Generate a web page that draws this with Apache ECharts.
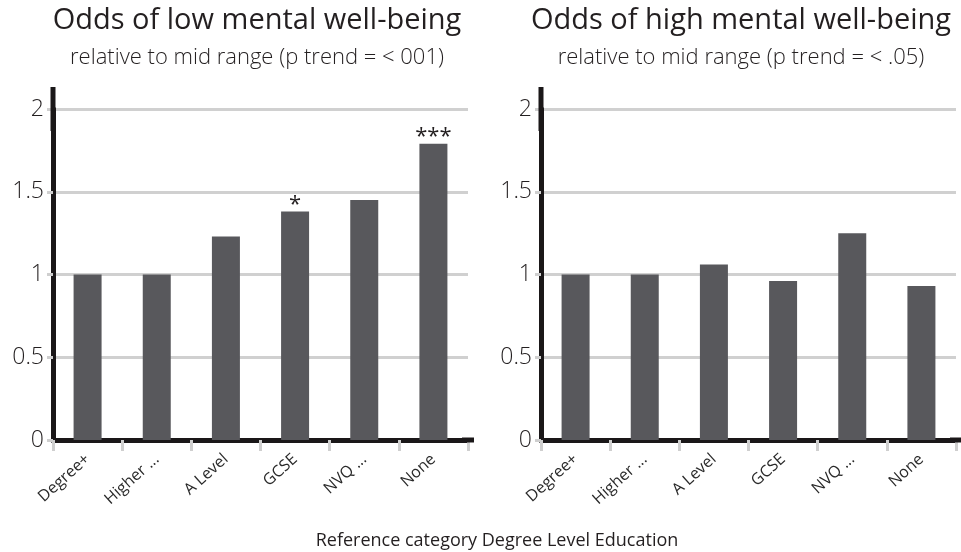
<!DOCTYPE html>
<html>
<head>
<meta charset="utf-8">
<script src="https://cdn.jsdelivr.net/npm/echarts@6/dist/echarts.min.js"></script>
<style>
  html, body { margin: 0; padding: 0; background: #fff; }
  #chart { width: 961px; height: 552px; }
</style>
</head>
<body>
<div id="chart"></div>
<script>
// Education levels shown on both panels
const categories = ['Degree+', 'Higher ...', 'A Level', 'GCSE', 'NVQ ...', 'None'];

// Odds ratios relative to the mid range of mental well-being
const lowWellbeingOdds = [1.0, 1.0, 1.23, 1.38, 1.45, 1.79];
const highWellbeingOdds = [1.0, 1.0, 1.06, 0.96, 1.25, 0.93];

// Significance markers printed above the bars
const lowSignificance = ['', '', '', '*', '', '***'];
const highSignificance = ['', '', '', '', '', ''];

// Value axis ticks
const yTicks = [0, 0.5, 1, 1.5, 2];

const FONT = '"Open Sans", Lato, sans-serif';
const TEXT = '#231f20';
const BAR = '#58585c';

function xAxisFor(gridIndex) {
  return {
    type: 'category',
    gridIndex,
    data: categories,
    boundaryGap: true,
    axisLine: {
      show: true,
      lineStyle: { color: '#1a1718', width: 5 },
      symbol: ['none', 'rect'],
      symbolSize: [5, 12]
    },
    axisTick: {
      show: true,
      alignWithLabel: false,
      length: 11,
      lineStyle: { color: '#cfcfcf', width: 3 }
    },
    axisLabel: {
      rotate: 42,
      margin: 17,
      interval: 0,
      fontFamily: FONT,
      fontWeight: 400,
      fontSize: 16,
      color: '#2a2a2a'
    },
    splitLine: { show: false }
  };
}

function yAxisFor(gridIndex) {
  return {
    type: 'value',
    gridIndex,
    min: yTicks[0],
    max: yTicks[yTicks.length - 1],
    interval: yTicks[1] - yTicks[0],
    axisLine: {
      show: true,
      lineStyle: { color: '#1a1718', width: 5 },
      symbol: ['none', 'rect'],
      symbolSize: [5, 44]
    },
    axisTick: {
      show: true,
      length: 6,
      lineStyle: { color: '#cfcfcf', width: 3 }
    },
    axisLabel: {
      margin: 9,
      fontFamily: FONT,
      fontWeight: 300,
      fontSize: 23,
      color: TEXT,
      formatter: v => String(v)
    },
    splitLine: {
      show: true,
      lineStyle: { color: '#d0d0d0', width: 3 }
    }
  };
}

function barSeries(index, values, marks) {
  return {
    type: 'bar',
    xAxisIndex: index,
    yAxisIndex: index,
    data: values,
    barWidth: 28,
    itemStyle: { color: BAR },
    label: {
      show: true,
      position: 'top',
      distance: -4,
      fontFamily: FONT,
      fontSize: 22,
      color: TEXT,
      formatter: p => marks[p.dataIndex]
    },
    silent: true,
    animation: false
  };
}

const chart = echarts.init(document.getElementById('chart'), null, { renderer: 'canvas' });

chart.setOption({
  backgroundColor: '#ffffff',
  animation: false,
  title: [
    {
      text: 'Odds of low mental well-being',
      subtext: 'relative to mid range (p trend = < 001)',
      left: 252,
      top: 1,
      textAlign: 'center',
      itemGap: 12,
      textStyle: { fontFamily: FONT, fontSize: 29, fontWeight: 400, color: TEXT },
      subtextStyle: { fontFamily: FONT, fontSize: 22, fontWeight: 300, color: TEXT }
    },
    {
      text: 'Odds of high mental well-being',
      subtext: 'relative to mid range (p trend = < .05)',
      left: 736,
      top: 1,
      textAlign: 'center',
      itemGap: 12,
      textStyle: { fontFamily: FONT, fontSize: 29, fontWeight: 400, color: TEXT },
      subtextStyle: { fontFamily: FONT, fontSize: 22, fontWeight: 300, color: TEXT }
    },
    {
      text: 'Reference category Degree Level Education',
      left: 492,
      top: 527,
      textAlign: 'center',
      textStyle: { fontFamily: FONT, fontSize: 18, fontWeight: 400, color: TEXT }
    }
  ],
  grid: [
    { left: 53, top: 109, width: 415, height: 331 },
    { left: 541, top: 109, width: 415, height: 331 }
  ],
  xAxis: [xAxisFor(0), xAxisFor(1)],
  yAxis: [yAxisFor(0), yAxisFor(1)],
  series: [
    barSeries(0, lowWellbeingOdds, lowSignificance),
    barSeries(1, highWellbeingOdds, highSignificance)
  ]
});
</script>
</body>
</html>
